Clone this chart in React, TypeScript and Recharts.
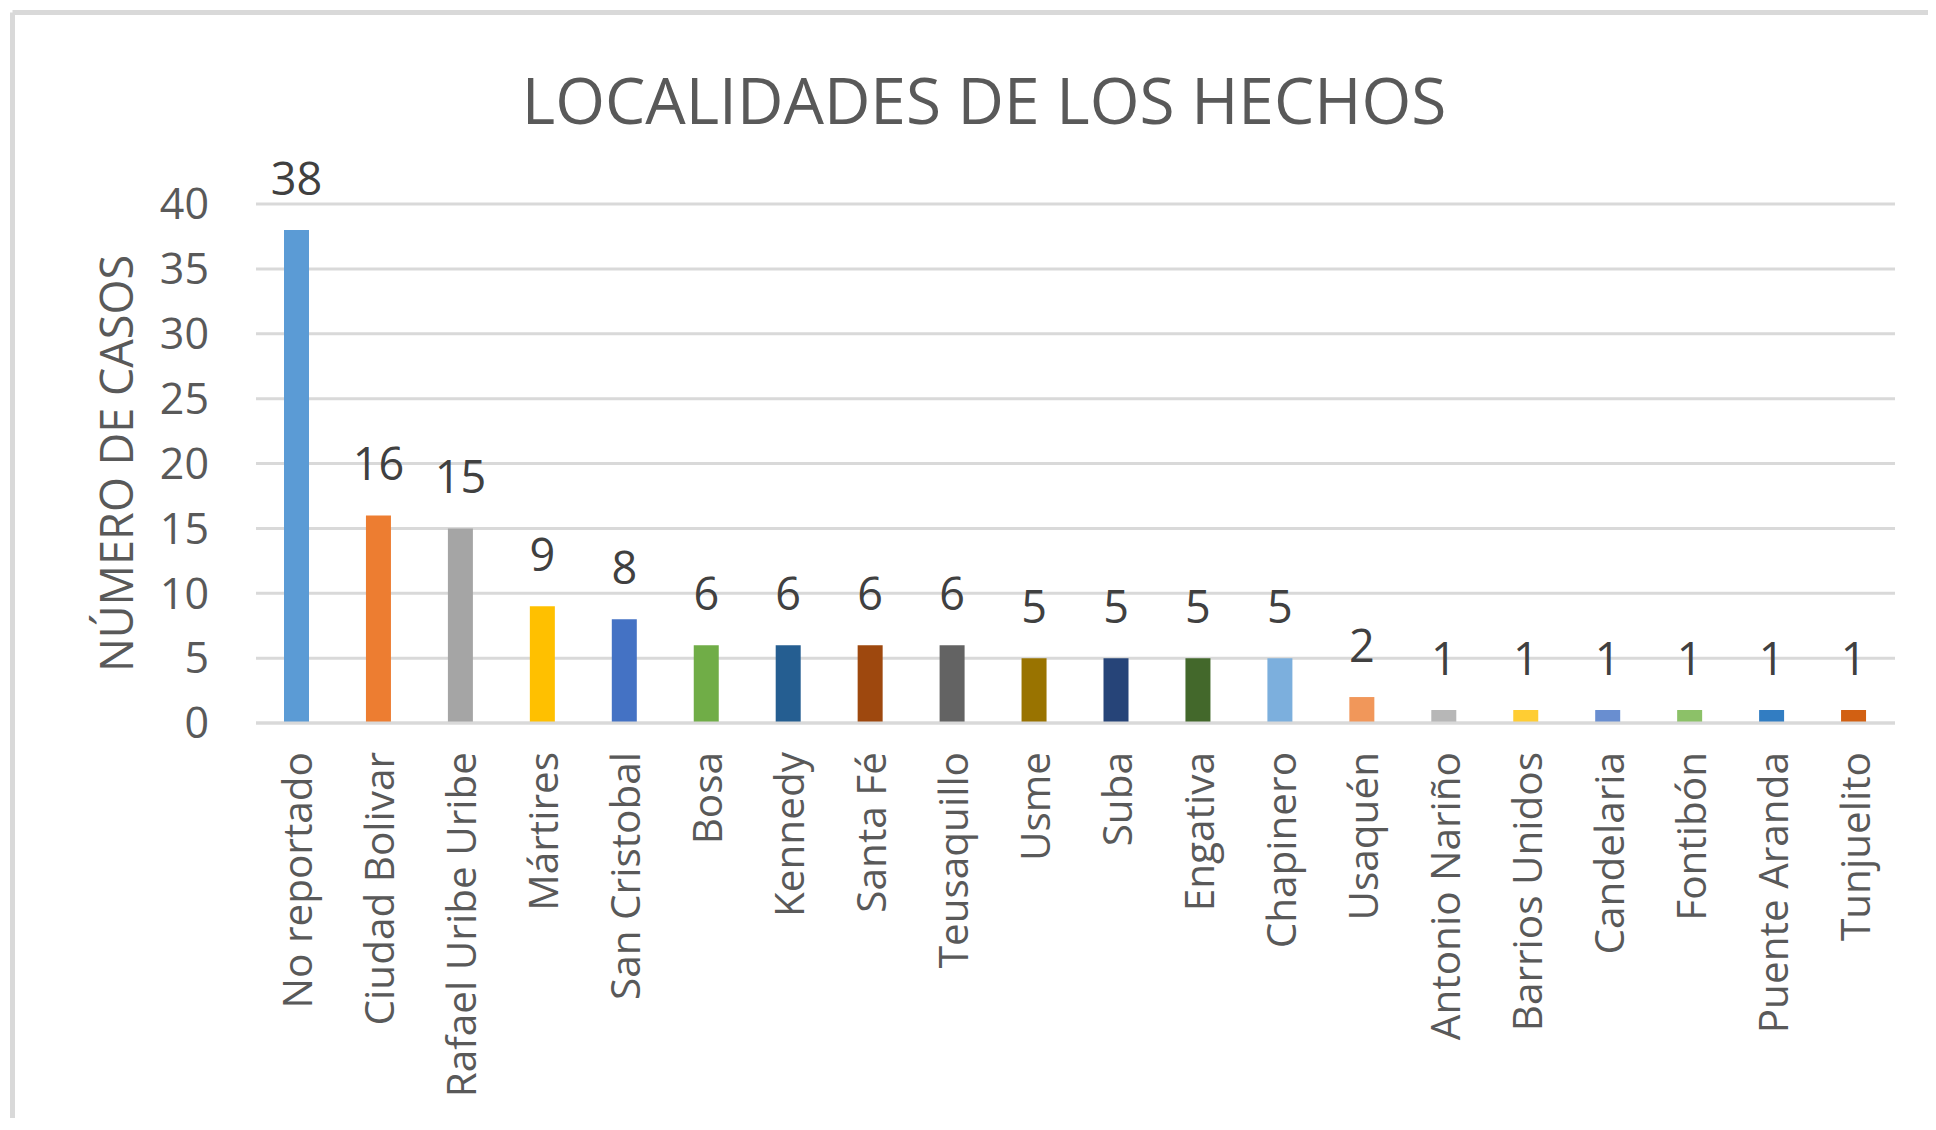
import React from "react";
import { BarChart, Bar, XAxis, YAxis, CartesianGrid, Cell, LabelList } from "recharts";

const categories = [
  "No reportado", "Ciudad Bolivar", "Rafael Uribe Uribe", "Mártires", "San Cristobal",
  "Bosa", "Kennedy", "Santa Fé", "Teusaquillo", "Usme", "Suba", "Engativa",
  "Chapinero", "Usaquén", "Antonio Nariño", "Barrios Unidos", "Candelaria",
  "Fontibón", "Puente Aranda", "Tunjuelito",
];
const casos = [38, 16, 15, 9, 8, 6, 6, 6, 6, 5, 5, 5, 5, 2, 1, 1, 1, 1, 1, 1];
const colors = [
  "#5B9BD5", "#ED7D31", "#A5A5A5", "#FFC000", "#4472C4", "#70AD47", "#255E91",
  "#9E480E", "#636363", "#997300", "#264478", "#43682B", "#7CAFDD", "#F1975A",
  "#B7B7B7", "#FFCD33", "#698ED0", "#8CC168", "#327DC2", "#D26012",
];
const yTicks = [0, 5, 10, 15, 20, 25, 30, 35, 40];
const title = "LOCALIDADES DE LOS HECHOS";
const yTitle = "NÚMERO DE CASOS";

const data = categories.map((name, i) => ({ name, value: casos[i] }));

const FONT = "'Open Sans', 'Noto Sans', sans-serif";
const W = 1920;
const H = 1110;

const CategoryTick = (props: any) => {
  const { x, y, payload } = props;
  const ty = y + 29;
  return (
    <text
      x={x}
      y={ty}
      transform={`rotate(-90, ${x}, ${ty})`}
      textAnchor="end"
      dominantBaseline="central"
      fontFamily={FONT}
      fontSize={40.5}
      fill="#595959"
    >
      {payload.value}
    </text>
  );
};

const YTitle = (props: any) => {
  const vb = props.viewBox || { x: 0, y: 0, width: 0, height: 0 };
  const cx = vb.x + 107;
  const cy = vb.y + vb.height / 2;
  return (
    <text
      x={cx}
      y={cy}
      transform={`rotate(-90, ${cx}, ${cy})`}
      textAnchor="middle"
      dominantBaseline="central"
      fontFamily={FONT}
      fontSize={45}
      fill="#595959"
    >
      {yTitle}
    </text>
  );
};

export default function App() {
  return (
    <div style={{ position: "relative", width: W, height: H, background: "#fff" }}>
      <BarChart
        width={W}
        height={H}
        data={data}
        margin={{ top: 196, right: 33, bottom: 0, left: 0 }}
      >
        <CartesianGrid vertical={false} stroke="#d9d9d9" strokeWidth={3} />
        <XAxis
          dataKey="name"
          interval={0}
          height={395}
          tickLine={false}
          tickSize={0}
          tickMargin={0}
          axisLine={{ stroke: "#d9d9d9", strokeWidth: 3 }}
          tick={<CategoryTick />}
        />
        <YAxis
          width={248}
          domain={[0, 40]}
          ticks={yTicks}
          interval={0}
          axisLine={false}
          tickLine={false}
          tickSize={0}
          tickMargin={47}
          tick={{ fontFamily: FONT, fontSize: 43, fill: "#595959" }}
          label={<YTitle />}
        />
        <Bar dataKey="value" barSize={25} isAnimationActive={false}>
          {data.map((d, i) => (
            <Cell key={d.name} fill={colors[i]} />
          ))}
          <LabelList
            dataKey="value"
            position="top"
            offset={35}
            fontFamily={FONT}
            fontSize={45}
            fill="#404040"
          />
        </Bar>
      </BarChart>
      <svg
        width={W}
        height={H}
        style={{ position: "absolute", left: 0, top: 0, pointerEvents: "none" }}
      >
        <line x1={4.5} y1={4.5} x2={W} y2={4.5} stroke="#d9d9d9" strokeWidth={5} />
        <line x1={4.5} y1={4.5} x2={4.5} y2={H} stroke="#d9d9d9" strokeWidth={5} />
        <text
          x={976}
          y={115.5}
          textAnchor="middle"
          fontFamily={FONT}
          fontSize={64}
          fill="#595959"
        >
          {title}
        </text>
      </svg>
    </div>
  );
}
